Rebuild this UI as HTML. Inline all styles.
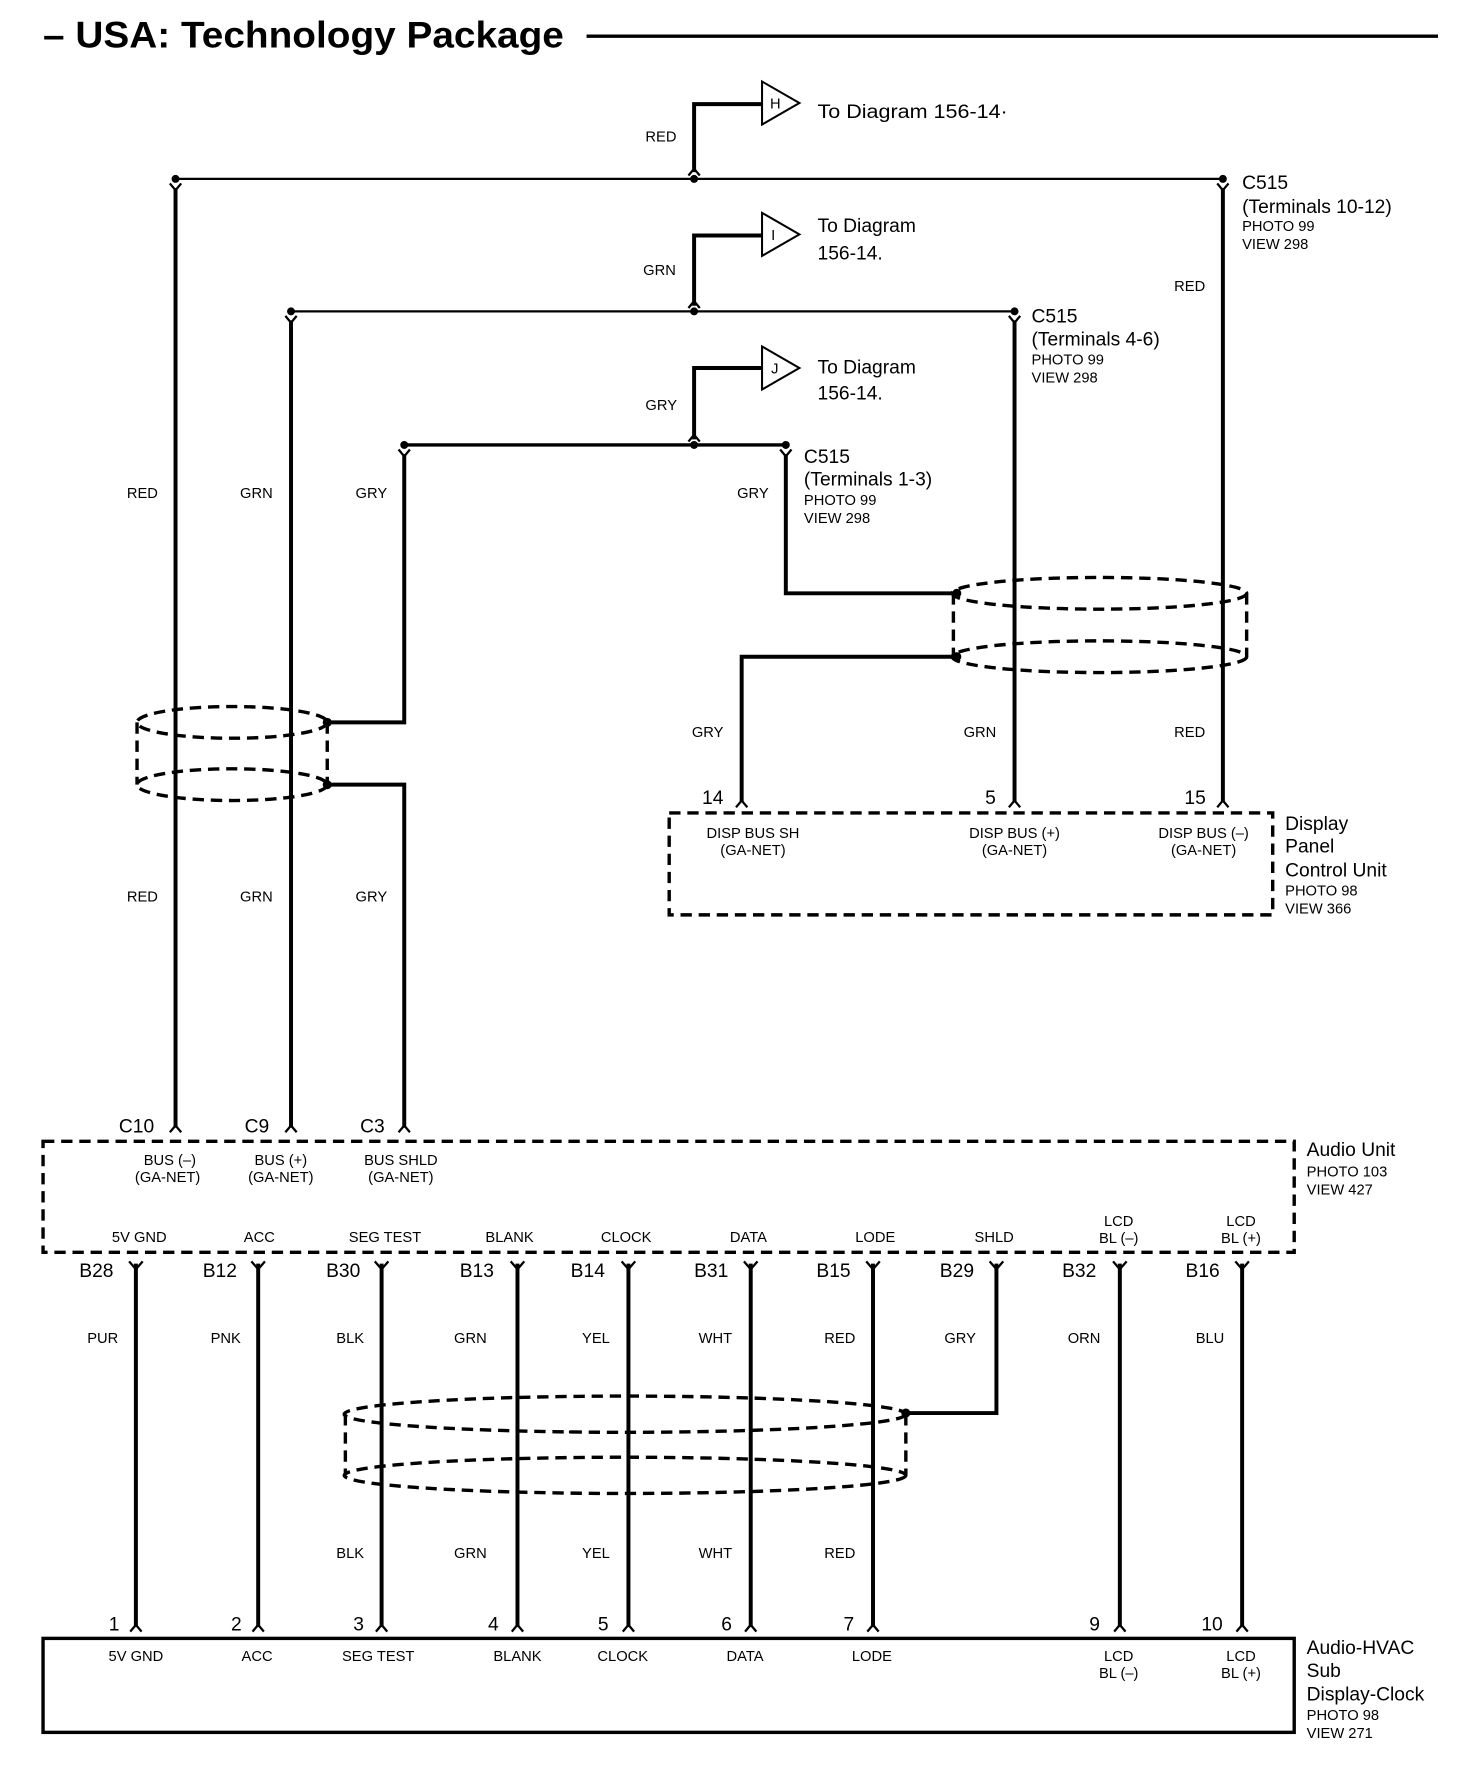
<!DOCTYPE html>
<html><head><meta charset="utf-8"><style>
html,body{margin:0;padding:0;background:#fff}
svg{display:block}
text{font-family:"Liberation Sans",Arial,sans-serif;fill:#000}
.s{font-size:13px}
.m{font-size:17px}
.p{font-size:13px}
.w{stroke:#000;stroke-width:3.5;fill:none}
.t{stroke:#000;stroke-width:1.8;fill:none}
.c{stroke:#000;stroke-width:2;fill:none}
.d{stroke:#000;stroke-width:3;fill:none;stroke-dasharray:10 6}
</style></head><body>
<svg width="1472" height="1778" viewBox="0 0 1300 1570.3" xmlns="http://www.w3.org/2000/svg">
<text x="38" y="42" style="font-size:33px;font-weight:bold" textLength="460" lengthAdjust="spacingAndGlyphs">– USA: Technology Package</text>
<line x1="518" y1="32" x2="1270" y2="32" stroke="#000" stroke-width="3"/>

<!-- H -->
<path class="w" d="M613 152 V92 H673"/>
<path class="t" d="M673 72 V110 L706 91 Z"/>
<text x="680" y="96" class="s">H</text>
<text x="722" y="104" class="m" textLength="168" lengthAdjust="spacingAndGlyphs">To Diagram 156-14·</text>
<text x="570" y="125" class="s">RED</text>
<line x1="155" y1="158" x2="1080" y2="158" stroke="#000" stroke-width="2"/>
<circle cx="155" cy="158" r="3.5"/><circle cx="613" cy="158" r="3.5"/><circle cx="1080" cy="158" r="3.5"/>
<text x="1097" y="167" class="m">C515</text>
<text x="1097" y="188" class="m">(Terminals 10-12)</text>
<text x="1097" y="204" class="p">PHOTO 99</text>
<text x="1097" y="220" class="p">VIEW 298</text>
<text x="1037" y="257" class="s">RED</text>

<!-- I -->
<path class="w" d="M613 270 V208 H673"/>
<path class="t" d="M673 188 V226 L706 207 Z"/>
<text x="681" y="212" class="s">I</text>
<text x="722" y="205" class="m">To Diagram</text>
<text x="722" y="229" class="m">156-14.</text>
<text x="568" y="243" class="s">GRN</text>
<line x1="257" y1="275" x2="896" y2="275" stroke="#000" stroke-width="2"/>
<circle cx="257" cy="275" r="3.5"/><circle cx="613" cy="275" r="3.5"/><circle cx="896" cy="275" r="3.5"/>
<text x="911" y="285" class="m">C515</text>
<text x="911" y="305" class="m">(Terminals 4-6)</text>
<text x="911" y="322" class="p">PHOTO 99</text>
<text x="911" y="338" class="p">VIEW 298</text>

<!-- J -->
<path class="w" d="M613 388 V325 H673"/>
<path class="t" d="M673 306 V344 L706 325 Z"/>
<text x="681" y="330" class="s">J</text>
<text x="722" y="330" class="m">To Diagram</text>
<text x="722" y="353" class="m">156-14.</text>
<text x="570" y="362" class="s">GRY</text>
<line x1="357" y1="393" x2="694" y2="393" stroke="#000" stroke-width="3"/>
<circle cx="357" cy="393" r="3.5"/><circle cx="613" cy="393" r="3.5"/><circle cx="694" cy="393" r="3.5"/>
<text x="710" y="409" class="m">C515</text>
<text x="710" y="429" class="m">(Terminals 1-3)</text>
<text x="710" y="446" class="p">PHOTO 99</text>
<text x="710" y="462" class="p">VIEW 298</text>

<!-- caps -->
<g class="c">
<path d="M608 155 L613 149 L618 155"/>
<path d="M608 272 L613 266 L618 272"/>
<path d="M608 390 L613 384 L618 390"/>
<path d="M150 162 L155 168 L160 162"/>
<path d="M1075 162 L1080 168 L1085 162"/>
<path d="M252 279 L257 285 L262 279"/>
<path d="M891 279 L896 285 L901 279"/>
<path d="M352 397 L357 403 L362 397"/>
<path d="M689 397 L694 403 L699 397"/>
</g>

<!-- left wires -->
<path class="w" d="M155 166 V996"/>
<path class="w" d="M257 283 V996"/>
<path class="w" d="M357 401 V638 H290"/>
<path class="w" d="M290 693 H357 V996"/>
<text x="112" y="440" class="s">RED</text>
<text x="212" y="440" class="s">GRN</text>
<text x="314" y="440" class="s">GRY</text>
<text x="112" y="796" class="s">RED</text>
<text x="212" y="796" class="s">GRN</text>
<text x="314" y="796" class="s">GRY</text>
<ellipse cx="205" cy="638" rx="84" ry="14" class="d"/>
<ellipse cx="205" cy="693" rx="84" ry="14" class="d"/>
<line x1="121" y1="638" x2="121" y2="693" class="d"/>
<line x1="289" y1="638" x2="289" y2="693" class="d"/>
<circle cx="289" cy="638" r="4"/><circle cx="289" cy="693" r="4"/>

<!-- right wires -->
<path class="w" d="M694 401 V524 H845"/>
<path class="w" d="M845 580 H655 V708"/>
<path class="w" d="M896 283 V708"/>
<path class="w" d="M1080 166 V708"/>
<ellipse cx="971" cy="524" rx="130" ry="14" class="d"/>
<ellipse cx="971" cy="580" rx="130" ry="14" class="d"/>
<line x1="842" y1="524" x2="842" y2="580" class="d"/>
<line x1="1101" y1="524" x2="1101" y2="580" class="d"/>
<circle cx="845" cy="524" r="4"/><circle cx="845" cy="580" r="4"/>
<text x="651" y="440" class="s">GRY</text>
<text x="611" y="651" class="s">GRY</text>
<text x="851" y="651" class="s">GRN</text>
<text x="1037" y="651" class="s">RED</text>
<g class="c">
<path d="M650 713 L655 707 L660 713"/>
<path d="M891 713 L896 707 L901 713"/>
<path d="M1075 713 L1080 707 L1085 713"/>
</g>
<text x="620" y="710" class="m">14</text>
<text x="870" y="710" class="m">5</text>
<text x="1046" y="710" class="m">15</text>
<rect x="591" y="718" width="533" height="90" class="d"/>
<g class="s" text-anchor="middle">
<text x="665" y="740">DISP BUS SH</text><text x="665" y="755">(GA-NET)</text>
<text x="896" y="740">DISP BUS (+)</text><text x="896" y="755">(GA-NET)</text>
<text x="1063" y="740">DISP BUS (–)</text><text x="1063" y="755">(GA-NET)</text>
</g>
<text x="1135" y="733" class="m">Display</text>
<text x="1135" y="753" class="m">Panel</text>
<text x="1135" y="774" class="m">Control Unit</text>
<text x="1135" y="791" class="p">PHOTO 98</text>
<text x="1135" y="807" class="p">VIEW 366</text>

<!-- audio unit -->
<g class="c">
<path d="M150 1000 L155 994 L160 1000"/>
<path d="M252 1000 L257 994 L262 1000"/>
<path d="M352 1000 L357 994 L362 1000"/>
</g>
<text x="105" y="1000" class="m">C10</text>
<text x="216" y="1000" class="m">C9</text>
<text x="318" y="1000" class="m">C3</text>
<rect x="38" y="1008" width="1105" height="98" class="d"/>
<g class="s" text-anchor="middle">
<text x="150" y="1029">BUS (–)</text><text x="148" y="1044">(GA-NET)</text>
<text x="248" y="1029">BUS (+)</text><text x="248" y="1044">(GA-NET)</text>
<text x="354" y="1029">BUS SHLD</text><text x="354" y="1044">(GA-NET)</text>
<text x="123" y="1097">5V GND</text>
<text x="229" y="1097">ACC</text>
<text x="340" y="1097">SEG TEST</text>
<text x="450" y="1097">BLANK</text>
<text x="553" y="1097">CLOCK</text>
<text x="661" y="1097">DATA</text>
<text x="773" y="1097">LODE</text>
<text x="878" y="1097">SHLD</text>
<text x="988" y="1083">LCD</text><text x="988" y="1098">BL (–)</text>
<text x="1096" y="1083">LCD</text><text x="1096" y="1098">BL (+)</text>
</g>
<text x="1154" y="1021" class="m">Audio Unit</text>
<text x="1154" y="1039" class="p">PHOTO 103</text>
<text x="1154" y="1055" class="p">VIEW 427</text>

<!-- bottom wires -->
<g class="w">
<path d="M120 1116 V1437"/><path d="M228 1116 V1437"/><path d="M337 1116 V1437"/>
<path d="M457 1116 V1437"/><path d="M555 1116 V1437"/><path d="M663 1116 V1437"/>
<path d="M771 1116 V1437"/><path d="M880 1116 V1248 H800"/><path d="M989 1116 V1437"/>
<path d="M1097 1116 V1437"/>
</g>
<g class="c">
<path d="M114 1114 L120 1121 L126 1114"/><path d="M222 1114 L228 1121 L234 1114"/>
<path d="M331 1114 L337 1121 L343 1114"/><path d="M451 1114 L457 1121 L463 1114"/>
<path d="M549 1114 L555 1121 L561 1114"/><path d="M657 1114 L663 1121 L669 1114"/>
<path d="M765 1114 L771 1121 L777 1114"/><path d="M874 1114 L880 1121 L886 1114"/>
<path d="M983 1114 L989 1121 L995 1114"/><path d="M1091 1114 L1097 1121 L1103 1114"/>
<path d="M115 1441 L120 1435 L125 1441"/><path d="M223 1441 L228 1435 L233 1441"/>
<path d="M332 1441 L337 1435 L342 1441"/><path d="M452 1441 L457 1435 L462 1441"/>
<path d="M550 1441 L555 1435 L560 1441"/><path d="M658 1441 L663 1435 L668 1441"/>
<path d="M766 1441 L771 1435 L776 1441"/><path d="M984 1441 L989 1435 L994 1441"/>
<path d="M1092 1441 L1097 1435 L1102 1441"/>
</g>
<g class="m">
<text x="70" y="1128">B28</text><text x="179" y="1128">B12</text><text x="288" y="1128">B30</text>
<text x="406" y="1128">B13</text><text x="504" y="1128">B14</text><text x="613" y="1128">B31</text>
<text x="721" y="1128">B15</text><text x="830" y="1128">B29</text><text x="938" y="1128">B32</text>
<text x="1047" y="1128">B16</text>
</g>
<g class="s">
<text x="77" y="1186">PUR</text><text x="186" y="1186">PNK</text><text x="297" y="1186">BLK</text>
<text x="401" y="1186">GRN</text><text x="514" y="1186">YEL</text><text x="617" y="1186">WHT</text>
<text x="728" y="1186">RED</text><text x="834" y="1186">GRY</text><text x="943" y="1186">ORN</text>
<text x="1056" y="1186">BLU</text>
<text x="297" y="1376">BLK</text><text x="401" y="1376">GRN</text><text x="514" y="1376">YEL</text>
<text x="617" y="1376">WHT</text><text x="728" y="1376">RED</text>
</g>
<ellipse cx="552" cy="1249" rx="248" ry="16" class="d"/>
<ellipse cx="552" cy="1303" rx="248" ry="16" class="d"/>
<line x1="305" y1="1249" x2="305" y2="1303" class="d"/>
<line x1="800" y1="1249" x2="800" y2="1303" class="d"/>
<circle cx="800" cy="1248" r="4"/>
<g class="m">
<text x="96" y="1440">1</text><text x="204" y="1440">2</text><text x="312" y="1440">3</text>
<text x="431" y="1440">4</text><text x="528" y="1440">5</text><text x="637" y="1440">6</text>
<text x="745" y="1440">7</text><text x="962" y="1440">9</text><text x="1061" y="1440">10</text>
</g>
<rect x="38" y="1447" width="1105" height="83" fill="none" stroke="#000" stroke-width="3"/>
<g class="s" text-anchor="middle">
<text x="120" y="1467">5V GND</text><text x="227" y="1467">ACC</text><text x="334" y="1467">SEG TEST</text>
<text x="457" y="1467">BLANK</text><text x="550" y="1467">CLOCK</text><text x="658" y="1467">DATA</text>
<text x="770" y="1467">LODE</text>
<text x="988" y="1467">LCD</text><text x="988" y="1482">BL (–)</text>
<text x="1096" y="1467">LCD</text><text x="1096" y="1482">BL (+)</text>
</g>
<text x="1154" y="1461" class="m">Audio-HVAC</text>
<text x="1154" y="1481" class="m">Sub</text>
<text x="1154" y="1502" class="m">Display-Clock</text>
<text x="1154" y="1519" class="p">PHOTO 98</text>
<text x="1154" y="1535" class="p">VIEW 271</text>
</svg>
</body></html>
